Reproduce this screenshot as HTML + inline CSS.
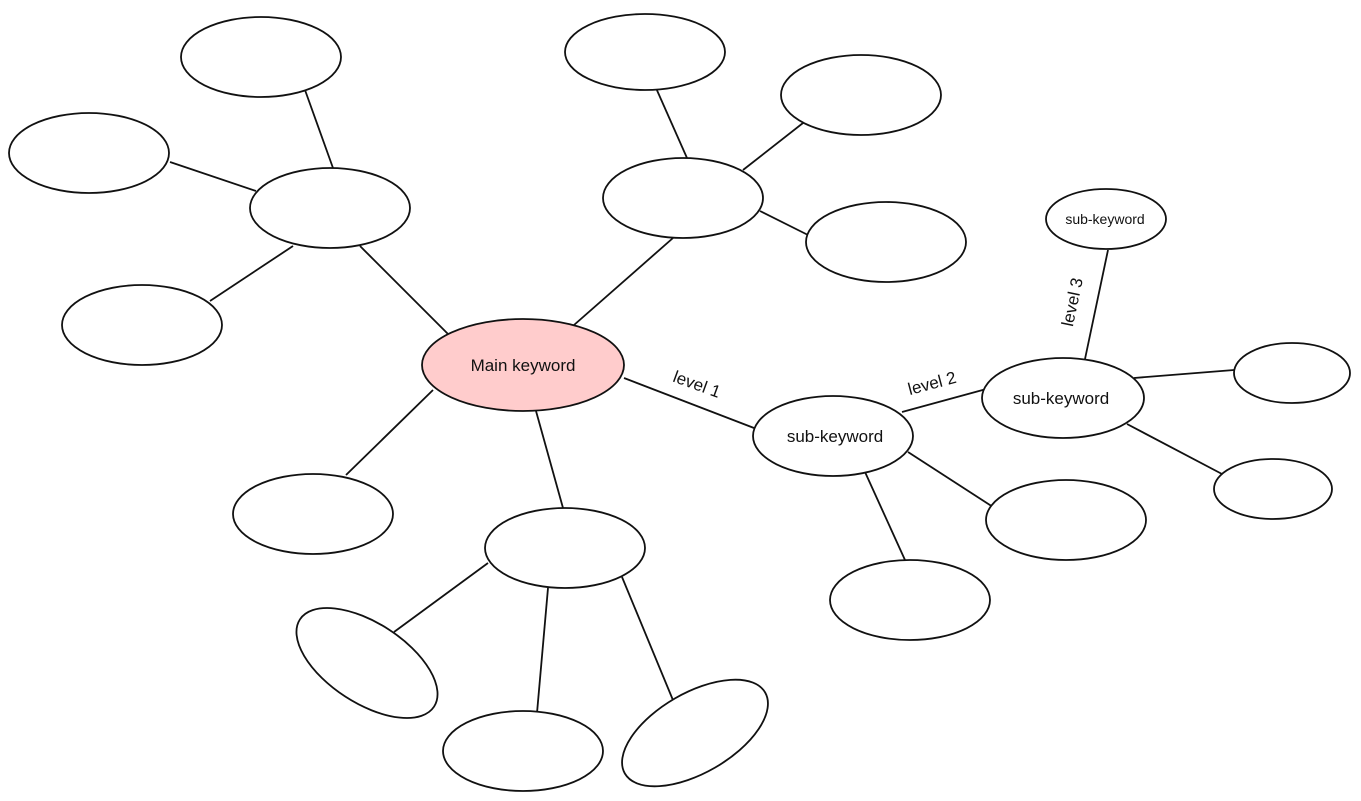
<!DOCTYPE html>
<html><head><meta charset="utf-8"><style>html,body{margin:0;padding:0;background:#fff}svg{display:block}</style></head>
<body>
<svg width="1361" height="801" viewBox="0 0 1361 801" xmlns="http://www.w3.org/2000/svg" font-family="Liberation Sans, sans-serif">
<g stroke="#111" stroke-width="1.8" fill="none">
<line x1="305" y1="90" x2="333" y2="168"/>
<line x1="170" y1="162" x2="256" y2="191"/>
<line x1="293" y1="246" x2="210" y2="301"/>
<line x1="360" y1="246" x2="448" y2="334"/>
<line x1="433" y1="390" x2="346" y2="475"/>
<line x1="536" y1="411" x2="563" y2="508"/>
<line x1="488" y1="563" x2="394" y2="632"/>
<line x1="548" y1="588" x2="537" y2="713"/>
<line x1="622" y1="577" x2="675" y2="705"/>
<line x1="574" y1="325" x2="673" y2="238"/>
<line x1="656" y1="88" x2="687" y2="158"/>
<line x1="743" y1="170" x2="803" y2="123"/>
<line x1="760" y1="211" x2="808" y2="235"/>
<line x1="624" y1="378" x2="754" y2="428"/>
<line x1="865" y1="472" x2="905" y2="560"/>
<line x1="908" y1="452" x2="993" y2="507"/>
<line x1="902" y1="412" x2="990" y2="388"/>
<line x1="1108" y1="250" x2="1085" y2="359"/>
<line x1="1134" y1="378" x2="1234" y2="370"/>
<line x1="1127" y1="424" x2="1222" y2="474"/>
</g>
<g stroke="#111" stroke-width="1.8" fill="#fff">
<ellipse cx="261" cy="57" rx="80" ry="40"/>
<ellipse cx="89" cy="153" rx="80" ry="40"/>
<ellipse cx="330" cy="208" rx="80" ry="40"/>
<ellipse cx="142" cy="325" rx="80" ry="40"/>
<ellipse cx="523" cy="365" rx="101" ry="46" fill="#ffcccc"/>
<ellipse cx="313" cy="514" rx="80" ry="40"/>
<ellipse cx="565" cy="548" rx="80" ry="40"/>
<ellipse cx="367" cy="663" rx="80" ry="40" transform="rotate(33 367 663)"/>
<ellipse cx="523" cy="751" rx="80" ry="40"/>
<ellipse cx="695" cy="733" rx="81" ry="40" transform="rotate(-30 695 733)"/>
<ellipse cx="645" cy="52" rx="80" ry="38"/>
<ellipse cx="861" cy="95" rx="80" ry="40"/>
<ellipse cx="683" cy="198" rx="80" ry="40"/>
<ellipse cx="886" cy="242" rx="80" ry="40"/>
<ellipse cx="833" cy="436" rx="80" ry="40"/>
<ellipse cx="1063" cy="398" rx="81" ry="40"/>
<ellipse cx="1106" cy="219" rx="60" ry="30"/>
<ellipse cx="1292" cy="373" rx="58" ry="30"/>
<ellipse cx="1273" cy="489" rx="59" ry="30"/>
<ellipse cx="1066" cy="520" rx="80" ry="40"/>
<ellipse cx="910" cy="600" rx="80" ry="40"/>
</g>
<g fill="#111" font-size="17" text-anchor="middle">
<text x="523" y="371">Main keyword</text>
<text x="835" y="442">sub-keyword</text>
<text x="1061" y="404">sub-keyword</text>
<text x="1105" y="224" font-size="14">sub-keyword</text>
<text x="697" y="390" transform="rotate(20 697 384)">level 1</text>
<text x="932" y="389" transform="rotate(-15 932 383)">level 2</text>
<text x="1072" y="308" transform="rotate(-78 1072 302)">level 3</text>
</g>
</svg>
</body></html>
